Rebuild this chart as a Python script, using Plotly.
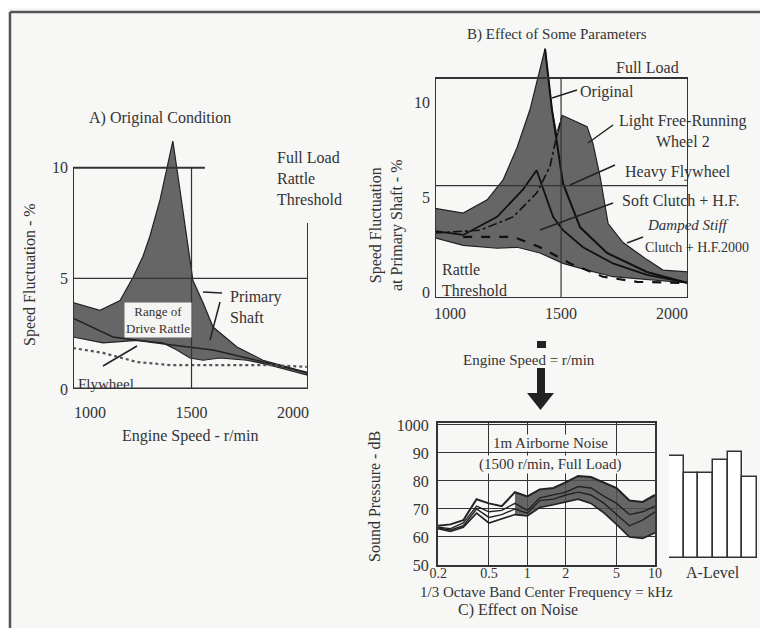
import plotly.graph_objects as go

W, H = 768, 628
PAD = 8  # default page margin around the plot div
INK = "#333333"
FILL = "rgba(80,80,80,0.87)"
FONT = "Liberation Serif"

# ---- A) original condition: speed fluctuation (%) vs engine speed (r/min)
a_up_rpm = [916, 1049, 1148, 1212, 1261, 1295, 1345, 1379, 1408, 1443, 1478, 1507, 1557, 1606, 1724, 1852, 1970, 2068]
a_up_val = [3.9, 3.55, 4.0, 5.05, 6.0, 6.9, 8.55, 10.0, 11.2, 9.0, 6.8, 4.9, 3.9, 2.8, 1.9, 1.3, 1.0, 0.72]
a_lo_rpm = [916, 1064, 1231, 1359, 1428, 1492, 1557, 1640, 1773, 1886, 2068]
a_lo_val = [2.35, 2.08, 2.2, 2.08, 1.76, 1.4, 1.3, 1.4, 1.3, 1.08, 0.63]
a_shaft_rpm = [916, 1113, 1394, 1606, 1773, 1970, 2068]
a_shaft_val = [3.2, 2.35, 2.0, 1.76, 1.4, 0.95, 0.75]
a_fly_rpm = [916, 1064, 1231, 1394, 1640, 1886, 2068]
a_fly_val = [1.85, 1.63, 1.22, 1.08, 1.08, 1.08, 1.0]
a_threshold = 5

# ---- B) effect of some parameters
b_up_rpm = [932, 1059, 1167, 1239, 1302, 1360, 1428, 1459, 1482, 1505, 1617, 1644, 1676, 1712, 1779, 1887, 1959, 2072]
b_up_val = [4.4, 4.15, 4.85, 5.9, 7.6, 9.6, 12.8, 9.6, 8.2, 9.3, 8.7, 7.8, 6.05, 3.6, 2.6, 1.7, 1.15, 1.05]
b_lo_rpm = [932, 1059, 1212, 1302, 1405, 1509, 1617, 1734, 1887, 2072]
b_lo_val = [2.85, 2.45, 2.3, 2.35, 2.05, 1.5, 1.15, 0.8, 0.63, 0.47]
b_orig_rpm = [1428, 1459, 1509, 1586, 1707, 1887, 2072]
b_orig_val = [12.8, 9.6, 5.7, 3.4, 2.05, 1.05, 0.47]
b_light_rpm = [932, 1135, 1284, 1390, 1450, 1486, 1505]
b_light_val = [3.1, 3.25, 3.95, 5.2, 6.6, 8.5, 9.3]
b_heavy_rpm = [932, 1059, 1212, 1329, 1390, 1419, 1464, 1509, 1599, 1734, 1887, 2072]
b_heavy_val = [3.2, 3.0, 3.95, 5.4, 6.4, 5.4, 3.95, 3.25, 2.35, 1.5, 0.9, 0.47]
b_soft_rpm = [1059, 1284, 1405, 1541, 1689, 1842, 2072]
b_soft_val = [2.9, 2.9, 2.35, 1.5, 0.8, 0.53, 0.47]
b_damp_rpm = [1250, 1300, 1350, 1405]
b_damp_val = [2.2, 2.1, 2.0, 1.95]
b_threshold = 5.6

# ---- C) 1/3 octave noise spectra (dB)
freq = [0.2, 0.25, 0.315, 0.4, 0.5, 0.63, 0.8, 1.0, 1.25, 1.6, 2.0, 2.5, 3.15, 4.0, 5.0, 6.3, 8.0, 10.0]
spl_upper = [64, 64.5, 66, 73.5, 72, 71, 76, 74.5, 77, 77.5, 79.5, 81.8, 81.4, 79.5, 77.5, 73, 72.5, 75]
spl_mid1 = [63.5, 63, 65, 71, 69, 69.5, 72, 69.5, 74, 75, 76, 78, 77.5, 74.5, 72, 68, 69, 71]
spl_mid2 = [63.2, 62.5, 64, 70, 67, 68, 70, 68.5, 73, 73.5, 75, 76, 75, 72, 68, 64, 66, 69]
spl_lower = [63, 62, 63.5, 68.5, 65, 66.5, 68, 67.5, 70.5, 71.5, 72.5, 73.5, 72, 68.5, 64.5, 60, 59.5, 61.5]
a_level_cases = ["1", "2", "3", "4", "5", "6"]
a_level_db = [89, 83, 83, 87.5, 90.5, 81.5]
a_level_base = 52.5

FW, FH = W - PAD, H - PAD


def px(x):
    return (x - PAD) / FW


def py(y):
    return 1 - (y - PAD) / FH


fig = go.Figure()

# A band + lines
fig.add_trace(go.Scatter(x=a_up_rpm + a_lo_rpm[::-1], y=a_up_val + a_lo_val[::-1], fill="toself",
                         fillcolor=FILL, line=dict(color="#222", width=1.2), mode="lines",
                         xaxis="x", yaxis="y"))
fig.add_trace(go.Scatter(x=a_shaft_rpm, y=a_shaft_val, mode="lines", line=dict(color="#222", width=1.6),
                         xaxis="x", yaxis="y"))
fig.add_trace(go.Scatter(x=a_fly_rpm, y=a_fly_val, mode="lines", line=dict(color="#555", width=2.2, dash="dot"),
                         xaxis="x", yaxis="y"))

# B band + lines
fig.add_trace(go.Scatter(x=b_up_rpm + b_lo_rpm[::-1], y=b_up_val + b_lo_val[::-1], fill="toself",
                         fillcolor=FILL, line=dict(color="#222", width=1.2), mode="lines",
                         xaxis="x2", yaxis="y2"))
fig.add_trace(go.Scatter(x=b_orig_rpm, y=b_orig_val, mode="lines", line=dict(color="#111", width=2),
                         xaxis="x2", yaxis="y2"))
fig.add_trace(go.Scatter(x=b_light_rpm, y=b_light_val, mode="lines", line=dict(color="#111", width=1.6, dash="dashdot"),
                         xaxis="x2", yaxis="y2"))
fig.add_trace(go.Scatter(x=b_heavy_rpm, y=b_heavy_val, mode="lines", line=dict(color="#111", width=1.8),
                         xaxis="x2", yaxis="y2"))
fig.add_trace(go.Scatter(x=b_soft_rpm, y=b_soft_val, mode="lines", line=dict(color="#111", width=2.2, dash="dash"),
                         xaxis="x2", yaxis="y2"))
fig.add_trace(go.Scatter(x=b_damp_rpm, y=b_damp_val, mode="lines", line=dict(color="#eee", width=2, dash="dot"),
                         xaxis="x2", yaxis="y2"))

# C spectra
k = freq.index(0.8)
fig.add_trace(go.Scatter(x=freq[k:] + freq[k:][::-1], y=spl_upper[k:] + spl_lower[k:][::-1], fill="toself",
                         fillcolor=FILL, line=dict(width=0), mode="lines", xaxis="x3", yaxis="y3"))
for s, w in [(spl_upper, 2), (spl_mid1, 1.4), (spl_mid2, 1.4), (spl_lower, 1.6)]:
    fig.add_trace(go.Scatter(x=freq, y=s, mode="lines", line=dict(color="#222", width=w),
                             xaxis="x3", yaxis="y3"))

# A-level bars
fig.add_trace(go.Bar(x=a_level_cases, y=[v - a_level_base for v in a_level_db], base=a_level_base,
                     marker=dict(color="white", line=dict(color=INK, width=1.5)), xaxis="x4", yaxis="y4"))

tickfont = dict(family=FONT, size=16, color=INK)
noaxis = dict(showline=False, showgrid=False, zeroline=False, ticks="", automargin=False)

# frames, thresholds and reference lines
line = dict(color=INK, width=2)
thin = dict(color=INK, width=1.2)
shapes = [
    # outer figure border
    dict(type="line", xref="paper", yref="paper", x0=px(10), x1=px(10), y0=py(12), y1=0, line=dict(color="#555", width=2.5)),
    dict(type="line", xref="paper", yref="paper", x0=px(10), x1=1, y0=py(12), y1=py(12), line=dict(color="#555", width=2.5)),
    # A frame
    dict(type="line", xref="x", yref="y", x0=916, x1=916, y0=0, y1=10, line=line),
    dict(type="line", xref="x", yref="y", x0=916, x1=2074, y0=0, y1=0, line=dict(color=INK, width=3)),
    dict(type="line", xref="x", yref="y", x0=916, x1=1566, y0=10, y1=10, line=line),
    dict(type="line", xref="x", yref="y", x0=2074, x1=2074, y0=0, y1=7.5, line=line),
    dict(type="line", xref="x", yref="y", x0=1500, x1=1500, y0=0, y1=10, line=thin),
    dict(type="line", xref="x", yref="y", x0=916, x1=2074, y0=a_threshold, y1=a_threshold, line=thin),
    # B frame
    dict(type="rect", xref="x2", yref="y2", x0=932, x1=2072, y0=-0.32, y1=11.26, line=line),
    dict(type="line", xref="x2", yref="y2", x0=1500, x1=1500, y0=-0.32, y1=11.26, line=thin),
    dict(type="line", xref="x2", yref="y2", x0=932, x1=2072, y0=b_threshold, y1=b_threshold, line=thin),
    # arrow between B and C
    dict(type="rect", xref="paper", yref="paper", x0=px(537), x1=px(546), y0=py(348), y1=py(341), fillcolor="#222", line=dict(width=0)),
    dict(type="rect", xref="paper", yref="paper", x0=px(537), x1=px(545), y0=py(396), y1=py(368), fillcolor="#222", line=dict(width=0)),
    dict(type="path", xref="paper", yref="paper",
         path=f"M {px(527)} {py(393)} L {px(554)} {py(393)} L {px(540.5)} {py(410)} Z", fillcolor="#222", line=dict(width=0)),
]
# leader lines (pixel endpoints)
leaders = [
    (203, 292, 222, 293), (220, 302, 210, 340), (103, 366, 137, 346),
    (577, 90, 552, 98), (613, 125, 588, 143), (615, 165, 570, 185),
    (613, 203, 540, 230), (643, 237, 627, 243),
]
for x0, y0, x1, y1 in leaders:
    shapes.append(dict(type="line", xref="paper", yref="paper", x0=px(x0), y0=py(y0), x1=px(x1), y1=py(y1),
                       line=dict(color="#222", width=1.5)))


def note(x, y, text, size=16, xanchor="center", yanchor="middle", **kw):
    return dict(x=px(x), y=py(y), xref="paper", yref="paper", text=text, showarrow=False,
                xanchor=xanchor, yanchor=yanchor, font=dict(family=FONT, size=size, color=INK), **kw)


annotations = [
    note(160, 118, "A) Original Condition"),
    note(275, 178, "Full Load<br>Rattle<br>Threshold", xanchor="left", align="left"),
    note(228, 307, "Primary<br>Shaft", xanchor="left", align="left"),
    note(158, 320, "Range of<br>Drive Rattle", size=13, bgcolor="#f4f4f2", borderpad=1),
    note(76, 384, "Flywheel", size=15, xanchor="left"),
    note(190, 436, "Engine Speed - r/min"),
    note(30, 275, "Speed Fluctuation - %", textangle=-90),
    note(557, 34, "B) Effect of Some Parameters", size=15),
    note(647, 67, "Full Load"),
    note(578, 92, "Original", xanchor="left"),
    note(683, 131, "Light Free-Running<br>Wheel 2"),
    note(623, 172, "Heavy Flywheel", xanchor="left"),
    note(620, 200, "Soft Clutch + H.F.", xanchor="left"),
    note(645, 225, "<i>Damped Stiff</i>", size=15, xanchor="left"),
    note(643, 247, "Clutch + H.F.2000", size=14, xanchor="left"),
    note(440, 280, "Rattle<br>Threshold", xanchor="left", align="left"),
    note(386, 225, "Speed Fluctuation<br>at Primary Shaft - %", textangle=-90),
    note(529, 360, "Engine Speed = r/min", size=15),
    note(550, 443, "1m Airborne Noise", size=15, bgcolor="#f7f7f5", borderpad=0),
    note(550, 464, "(1500 r/min, Full Load)", size=15, bgcolor="#f7f7f5", borderpad=0),
    note(374, 497, "Sound Pressure - dB", textangle=-90),
    note(713, 572, "A-Level"),
    note(546, 592, "1/3 Octave Band Center Frequency = kHz", size=15),
    note(518, 610, "C) Effect on Noise"),
]

fig.update_layout(
    width=FW, height=FH, margin=dict(l=0, r=0, t=0, b=0, autoexpand=False),
    paper_bgcolor="#f7f7f5", plot_bgcolor="rgba(0,0,0,0)",
    showlegend=False, bargap=0,
    font=dict(family=FONT, color=INK),
    xaxis=dict(domain=[px(73), px(308)], range=[916, 2074], anchor="y", tickvals=[1000, 1500, 2000],
               tickfont=tickfont, ticklabelstandoff=12, **noaxis),
    yaxis=dict(domain=[py(389), py(130)], range=[0, 11.7], anchor="x", tickvals=[0, 5, 10],
               tickfont=tickfont, ticklabelstandoff=4, **noaxis),
    xaxis2=dict(domain=[px(435), px(688)], range=[932, 2072], anchor="y2", tickvals=[1000, 1500, 2000],
                tickfont=tickfont, ticklabelstandoff=4, **noaxis),
    yaxis2=dict(domain=[py(298), py(44)], range=[-0.32, 13.05], anchor="x2", tickvals=[0, 5, 10],
                tickfont=tickfont, ticklabelstandoff=4, **noaxis),
    xaxis3=dict(domain=[px(438), px(655)], type="log", range=[-0.70, 1.0], anchor="y3",
                tickvals=[0.2, 0.5, 1, 2, 5, 10], ticktext=["0.2", "0.5", "1", "2", "5", "10"],
                tickfont=dict(family=FONT, size=14, color=INK), showgrid=True, gridcolor=INK, gridwidth=1,
                zeroline=False, showline=True, mirror=True, linecolor=INK, linewidth=2, ticks="",
                ticklabelstandoff=-6, automargin=False),
    yaxis3=dict(domain=[py(565), py(423)], range=[50, 100.7], anchor="x3",
                tickvals=[50, 60, 70, 80, 90, 100], ticktext=["50", "60", "70", "80", "90", "1000"],
                tickfont=tickfont, showgrid=True, gridcolor=INK, gridwidth=1, zeroline=False,
                showline=True, mirror=True, linecolor=INK, linewidth=2, ticks="", ticklabelstandoff=4,
                automargin=False),
    xaxis4=dict(domain=[px(669), px(757)], anchor="y4", showticklabels=False, **noaxis),
    yaxis4=dict(domain=[py(565), py(423)], range=[50, 100.7], anchor="x4", showticklabels=False, **noaxis),
    shapes=shapes,
    annotations=annotations,
)

fig.write_html("out.html")
